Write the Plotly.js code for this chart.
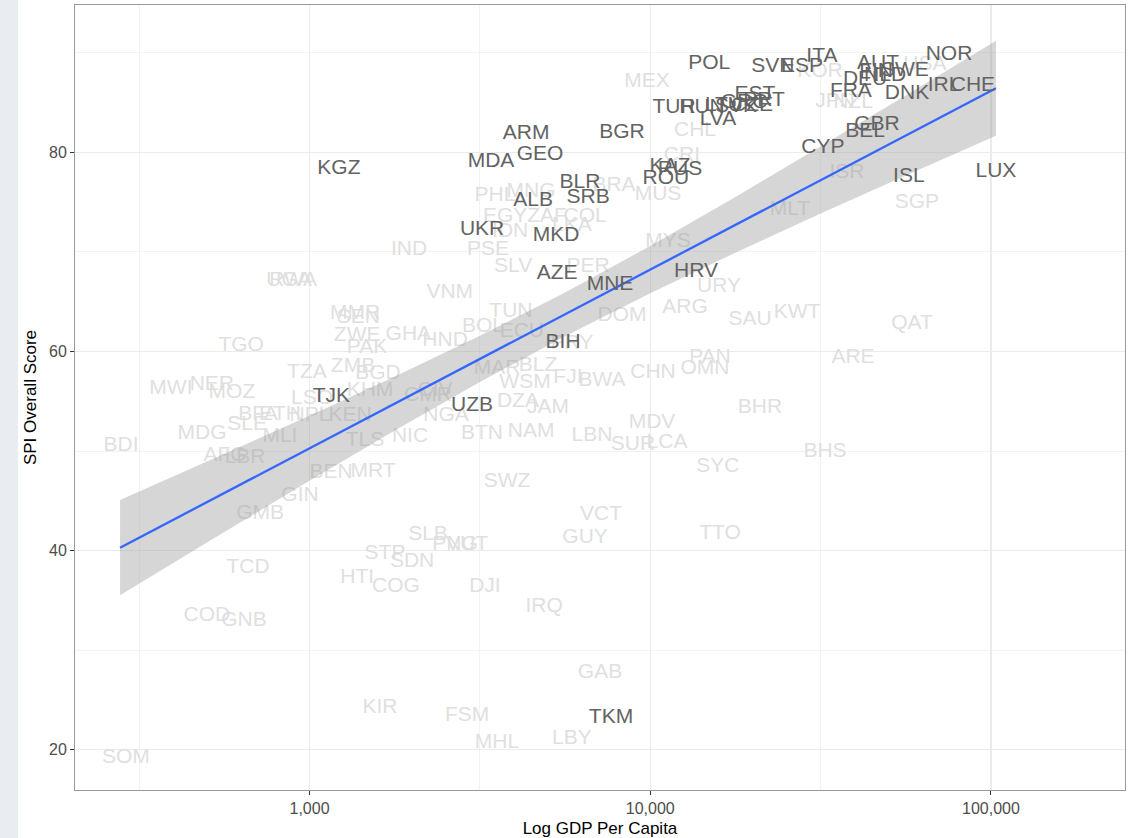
<!DOCTYPE html>
<html><head><meta charset="utf-8">
<script src="https://cdn.plot.ly/plotly-3.0.1.min.js"></script>
<style>
html,body{margin:0;padding:0;background:#fff;}
#chart{position:absolute;left:0;top:0;width:1128px;height:838px;}
#strip{position:absolute;left:0;top:0;width:18px;height:838px;background:#e9edf1;z-index:5;}
</style>
</head><body>
<div id="chart"></div><div id="strip"></div>
<script>
// Europe & Central Asia (highlighted)
const darkCodes = ["NOR","CHE","IRL","DNK","AUT","SWE","FIN","NLD","DEU","FRA","ITA","ESP","SVN","POL","GBR","BEL","CYP","ISL","LUX","TUR","HUN","LTU","SVK","GRC","CZE","EST","PRT","LVA","BGR","KAZ","RUS","ROU","BLR","SRB","ALB","UKR","MKD","AZE","MNE","HRV","BIH","TJK","UZB","TKM","KGZ","ARM","GEO","MDA"];
const darkGdp = [75300,88500,72800,56700,46600,55900,46000,48900,42700,38800,31900,27900,22900,14900,46300,42700,32100,57400,103400,11740,14190,16460,17850,18840,19890,20300,21570,15800,8260,11430,12230,11120,6220,6570,4530,3210,5290,5330,7620,13620,5550,1160,3000,7670,1220,4320,4750,3410];
const darkSpi = [89.8,86.7,86.7,85.9,88.9,88.2,88.1,87.7,87.3,86.1,89.6,88.6,88.6,88.9,82.8,82.1,80.5,77.5,78.0,84.5,84.5,84.7,84.6,85.0,84.7,85.8,85.2,83.3,82.0,78.5,78.2,77.3,76.9,75.4,75.1,72.2,71.6,67.8,66.7,68.0,60.9,55.5,54.5,23.2,78.3,81.9,79.8,79.0];

// Other regions (faded)
const lightCodes = ["KOR","ISR","SGP","MLT","JPN","NZL","USA","MEX","CHL","CRI","BRA","MUS","MYS","URY","ARG","DOM","MNG","PHL","EGY","ZAF","COL","IDN","LKA","PSE","IND","SLV","PER","VNM","TUN","BOL","ECU","PRY","HND","GHA","ZWE","MMR","SEN","PAK","TGO","RWA","UGA","ZMB","TZA","BGD","KHM","CIV","CMR","LSO","NGA","BFA","ETH","NPL","KEN","MLI","SLE","MDG","BDI","MWI","NER","MOZ","AFG","LBR","TLS","NIC","BTN","NAM","LBN","BEN","MRT","SWZ","GIN","GMB","MAR","BLZ","WSM","FJI","BWA","DZA","JAM","CHN","OMN","PAN","MDV","SUR","LCA","SAU","KWT","QAT","ARE","BHR","BHS","SYC","VCT","GUY","TTO","SLB","PNG","VUT","STP","SDN","HTI","COG","DJI","IRQ","GAB","KIR","FSM","MHL","LBY","TCD","COD","GNB","SOM"];
const lightGdp = [31490,37790,60640,25710,34850,39360,64000,9780,13530,12390,7830,10540,11270,15910,12650,8260,4470,3500,3750,4980,6440,3880,5890,3340,1960,3960,6570,2580,3900,3230,4200,5890,2500,1950,1380,1360,1390,1475,630,895,871,1342,983,1589,1505,2335,2227,1017,2515,706,819,1003,1315,819,656,484,280,392,517,592,565,647,1455,1972,3208,4470,6745,1157,1536,3800,938,716,3550,4685,4290,5735,7220,4090,5010,10190,14480,14970,10120,8900,11200,19620,26960,58640,39360,21000,32570,15800,7170,6440,16020,2227,2673,2900,1666,2000,1380,1794,3273,4880,7120,1610,2900,3550,5890,660,500,642,289];
const lightSpi = [88.1,77.9,74.9,74.2,85.1,85.0,88.8,87.1,82.2,79.7,76.6,75.7,71.0,66.5,64.4,63.6,76.0,75.6,73.5,73.5,73.5,72.0,72.6,70.2,70.2,68.5,68.5,65.9,64.0,62.5,62.0,60.8,61.1,61.7,61.6,63.8,63.4,60.4,60.6,67.1,67.1,58.5,57.9,57.8,56.1,56.1,55.6,55.3,53.5,53.6,53.6,53.5,53.5,51.4,52.6,51.7,50.5,56.3,56.7,55.9,49.5,49.3,51.0,51.4,51.7,51.9,51.5,47.8,47.9,46.9,45.5,43.7,58.3,58.6,56.9,57.4,57.1,54.9,54.3,57.9,58.3,59.4,52.8,50.6,50.8,63.2,63.9,62.8,59.4,54.3,49.9,48.4,43.6,41.3,41.7,41.6,40.6,40.6,39.7,38.9,37.3,36.4,36.4,34.4,27.7,24.2,23.4,20.7,21.1,38.3,33.5,33.0,19.2];

// Linear fit and 95% confidence band
const fitGdp = [278,500,1000,1800,3162,5623,10000,17783,31623,56234,103400];
const fitSpi = [40.29,44.87,50.27,54.85,59.25,63.73,68.22,72.71,77.20,81.68,86.43];
const fitLo  = [35.51,40.82,47.01,52.15,56.92,61.53,65.85,69.92,73.84,77.66,81.65];
const fitHi  = [45.07,48.92,53.53,57.55,61.58,65.93,70.59,75.50,80.56,85.70,91.21];

const xTickVals = [1000,10000,100000];
const xTickText = ["1,000","10,000","100,000"];
const yTickVals = [20,40,60,80];

const FONT = "Liberation Sans, Arial, Helvetica, sans-serif";

const traces = [
  {type:"scatter", mode:"text", x:lightGdp, y:lightSpi, text:lightCodes,
   textposition:"middle center", textfont:{family:FONT,size:21,color:"#dfdfdf"},
   hoverinfo:"skip", showlegend:false},
  {type:"scatter", mode:"lines",
   x:fitGdp.concat(fitGdp.slice().reverse()),
   y:fitHi.concat(fitLo.slice().reverse()),
   fill:"toself", fillcolor:"rgba(153,153,153,0.4)", line:{width:0,color:"rgba(0,0,0,0)"},
   hoverinfo:"skip", showlegend:false},
  {type:"scatter", mode:"lines", x:fitGdp, y:fitSpi,
   line:{color:"#3366FF",width:2.3}, hoverinfo:"skip", showlegend:false},
  {type:"scatter", mode:"text", x:darkGdp, y:darkSpi, text:darkCodes,
   textposition:"middle center", textfont:{family:FONT,size:21,color:"#636363"},
   hoverinfo:"skip", showlegend:false}
];

const layout = {
  width:1128, height:838,
  margin:{l:75,r:3,t:5,b:48},
  paper_bgcolor:"#ffffff", plot_bgcolor:"#ffffff",
  font:{family:FONT,color:"#4d4d4d"},
  showlegend:false,
  xaxis:{type:"log", range:[2.3118,5.3933], tickmode:"array", tickvals:xTickVals, ticktext:xTickText,
    ticks:"outside", ticklen:4, tickcolor:"#333333", tickwidth:1,
    tickfont:{family:FONT,size:16,color:"#4d4d4d"},
    showgrid:true, gridcolor:"#ebebeb", gridwidth:1.2, zeroline:false,
    minor:{tickmode:"array", tickvals:[316.23,3162.3,31623], showgrid:true, gridcolor:"#ebebeb", gridwidth:0.6, ticks:""},
    showline:true, mirror:true, linecolor:"#999999", linewidth:1,
    title:{text:"Log GDP Per Capita", font:{family:FONT,size:17,color:"#000000"}, standoff:6}},
  yaxis:{range:[15.96,94.79], tickmode:"array", tickvals:yTickVals,
    ticks:"outside", ticklen:4, tickcolor:"#333333", tickwidth:1,
    tickfont:{family:FONT,size:16,color:"#4d4d4d"},
    showgrid:true, gridcolor:"#ebebeb", gridwidth:1.2, zeroline:false,
    minor:{tickmode:"array", tickvals:[30,50,70,90], showgrid:true, gridcolor:"#ebebeb", gridwidth:0.6, ticks:""},
    showline:true, mirror:true, linecolor:"#999999", linewidth:1,
    title:{text:"SPI Overall Score", font:{family:FONT,size:17,color:"#000000"}, standoff:8}}
};

Plotly.newPlot("chart", traces, layout, {staticPlot:true, displayModeBar:false});
</script>
</body></html>
